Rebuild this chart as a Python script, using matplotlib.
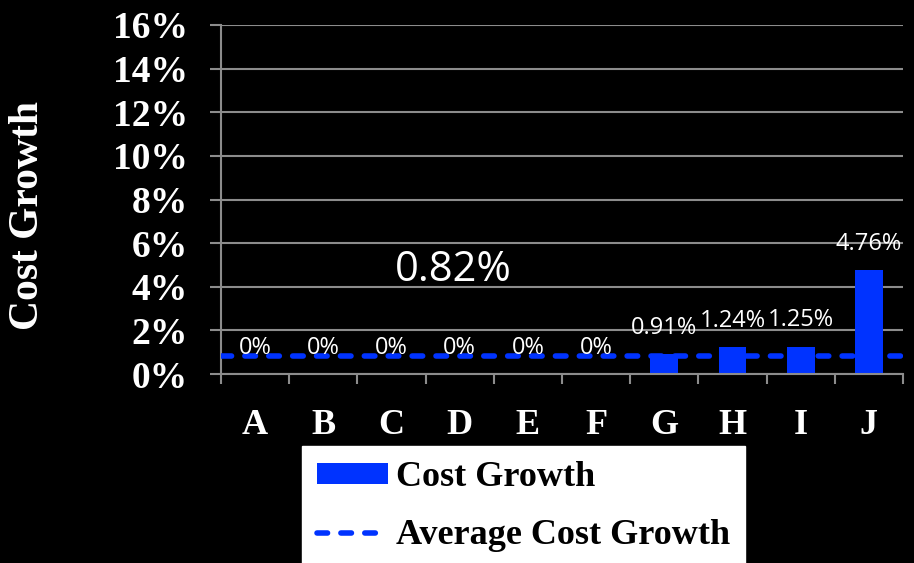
import matplotlib
matplotlib.use("Agg")
import matplotlib.pyplot as plt
from matplotlib.lines import Line2D
from matplotlib.patches import Patch
import numpy as np

# cost growth per program, in percent
programs = ["A", "B", "C", "D", "E", "F", "G", "H", "I", "J"]
cost_growth = [0, 0, 0, 0, 0, 0, 0.91, 1.24, 1.25, 4.76]
avg_cost_growth = 0.82
y_ticks = [0, 2, 4, 6, 8, 10, 12, 14, 16]

BLUE = "#0033ff"
GRID = "#8c8c8c"
SERIF = ["Liberation Serif", "DejaVu Serif"]
SANS = ["Open Sans", "DejaVu Sans"]
DASH = (0, (1.9, 2.4))

fig = plt.figure(figsize=(9.14, 5.63), dpi=100, facecolor="black")
ax = fig.add_axes([221 / 914, 1 - 374 / 563, 682 / 914, 349 / 563])
ax.set_facecolor("black")

x = np.arange(len(programs))
ax.bar(x, cost_growth, width=0.41, color=BLUE, linewidth=0, zorder=2)

# dashed average line across the whole plot
ax.axhline(avg_cost_growth, color=BLUE, linewidth=4, linestyle=DASH,
           dash_capstyle="round", zorder=3)

for xi, v in zip(x, cost_growth):
    ax.annotate(f"{v:g}%", (xi, v), xytext=(0, 19), textcoords="offset points",
                ha="center", va="center", color="white", fontsize=17, family=SANS,
                zorder=4)

ax.text(2.9, 4.77, f"{avg_cost_growth:g}%", ha="center", va="center",
        color="white", fontsize=30, family=SANS)

ax.set_xlim(-0.5, len(programs) - 0.5)
ax.set_ylim(0, 16)
ax.set_yticks(y_ticks)
ax.set_yticklabels([f"{t}%" for t in y_ticks])
ax.set_xticks(x)
ax.set_xticklabels(programs)
ax.set_xticks(np.arange(len(programs) + 1) - 0.5, minor=True)

ax.grid(axis="y", color=GRID, linewidth=1.5, zorder=1)
ax.set_axisbelow(True)
for side in ["top", "right"]:
    ax.spines[side].set_visible(False)
for side in ["left", "bottom"]:
    ax.spines[side].set_color(GRID)
    ax.spines[side].set_linewidth(1.5)

ax.tick_params(axis="y", direction="out", length=8, width=1.5, color=GRID,
               pad=16, labelcolor="white", labelsize=27)
ax.tick_params(axis="x", which="major", length=0, pad=25,
               labelcolor="white", labelsize=26)
ax.tick_params(axis="x", which="minor", direction="out", length=7, width=1.5,
               color=GRID)
for lab in ax.get_yticklabels() + ax.get_xticklabels():
    lab.set_family(SERIF)
    lab.set_fontweight("bold")

fig.text(28 / 914, 1 - 216 / 563, "Cost Growth", rotation=90, ha="center",
         va="center", color="white", fontsize=30, fontweight="bold", family=SERIF)

handles = [
    Patch(facecolor=BLUE, edgecolor="none"),
    Line2D([], [], color=BLUE, linewidth=4, linestyle=DASH,
           dash_capstyle="round"),
]
leg = fig.legend(handles, ["Cost Growth", "Average Cost Growth"],
                 loc="upper left", bbox_to_anchor=(302 / 914, 1 - 446 / 563),
                 frameon=True, fancybox=False, facecolor="white", edgecolor="white",
                 framealpha=1, borderpad=0.42, labelspacing=0.7,
                 handlelength=1.95, handleheight=0.5, handletextpad=0.22,
                 borderaxespad=0,
                 prop={"family": SERIF, "weight": "bold", "size": 26})
for t in leg.get_texts():
    t.set_color("black")

fig.savefig("out.png", dpi=100, facecolor="black")
